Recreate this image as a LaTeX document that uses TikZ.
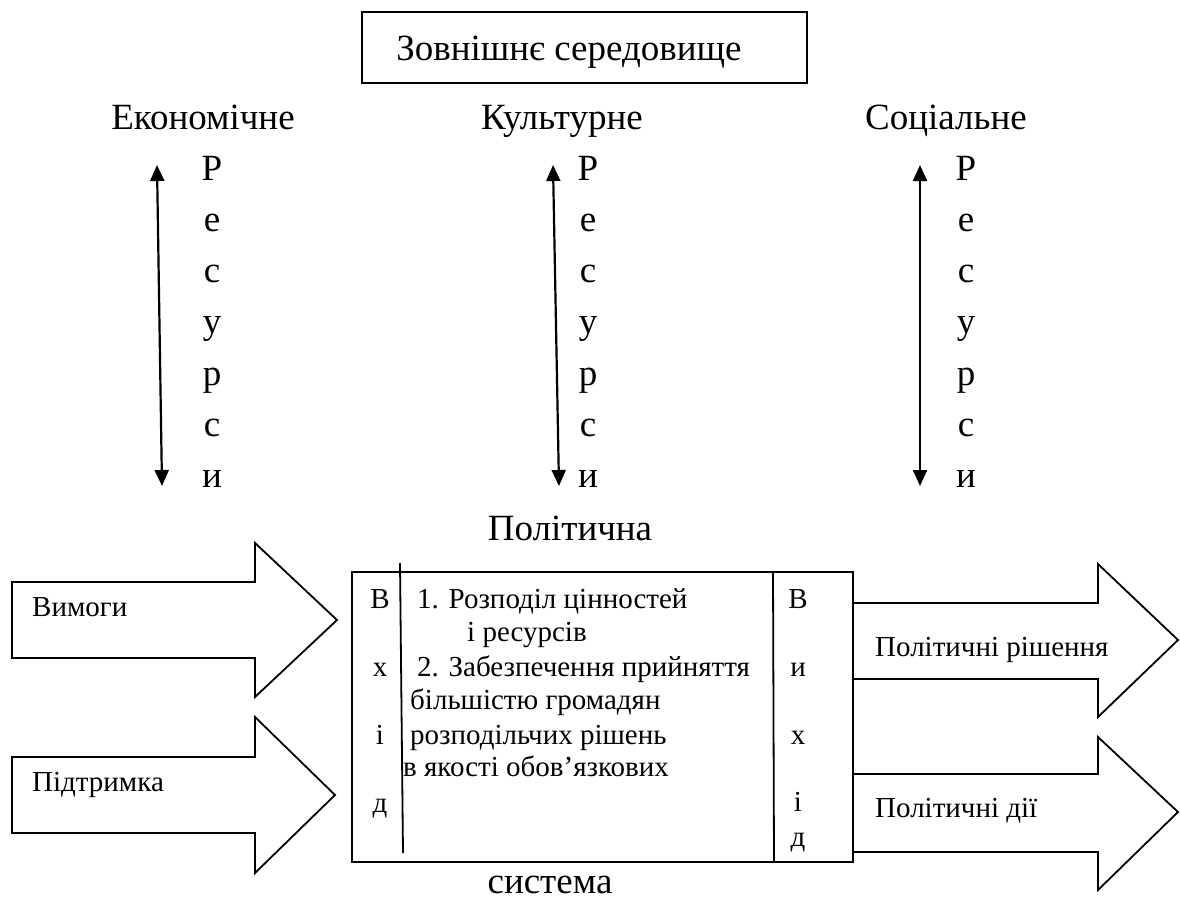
\documentclass[tikz,border=0pt]{standalone}
\usepackage{fontspec}
\setmainfont{Liberation Serif}
\usetikzlibrary{arrows.meta}
\begin{document}
\begin{tikzpicture}[x=1pt,y=-1pt,
  lbl/.style={inner sep=0pt,anchor=base,font=\fontsize{37}{40}\selectfont},
  sml/.style={inner sep=0pt,font=\fontsize{29}{32}\selectfont,anchor=base west},
  blk/.style={draw,line width=1.8pt,line join=miter},
  res/.style={line width=2.2pt,{Triangle[length=16pt,width=14pt]}-{Triangle[length=16pt,width=14pt]}}]
\useasboundingbox (0,0) rectangle (1180,902);
% top box
\node[draw,line width=1.8pt,minimum width=445pt,minimum height=71pt,inner sep=0pt] (env) at (584.5,47.5) {};
\node[lbl] (envt) at (569,60) {Зовнішнє середовище};
% column labels
\node[lbl] (eco) at (203,129) {Економічне};
\node[lbl] (cul) at (562,129) {Культурне};
\node[lbl] (soc) at (946,129) {Соціальне};
% resource columns
\foreach \c/\x in {1/212,2/588,3/966}{
  \foreach \l [count=\i from 0] in {Р,е,с,у,р,с,и}{
    \node[lbl] (r\c-\i) at (\x,180+51.3*\i) {\l};
  }
}
\coordinate (a1t) at (157,165); \coordinate (a1b) at (162,486);
\coordinate (a2t) at (553,165); \coordinate (a2b) at (559,486);
\coordinate (a3t) at (920,165); \coordinate (a3b) at (920,486);
\draw[res] (a1t) -- (a1b);
\draw[res] (a2t) -- (a2b);
\draw[res] (a3t) -- (a3b);
% political system
\node[lbl] (pol) at (570,540) {Політична};
\node[lbl] (sys) at (550,893) {система};
\node[draw,line width=1.8pt,minimum width=501pt,minimum height=290pt,inner sep=0pt] (box) at (602.5,717) {};
\coordinate (l1t) at (400,563); \coordinate (l1b) at (403,853);
\draw[line width=1.8pt] (l1t) -- (l1b);
\coordinate (l2t) at (773,572); \coordinate (l2b) at (774,862);
\draw[line width=1.8pt] (l2t) -- (l2b);
% input / output letters
\node[sml,anchor=base] (i1) at (380,608) {В};
\node[sml,anchor=base] (i2) at (380,676) {х};
\node[sml,anchor=base] (i3) at (380,744) {і};
\node[sml,anchor=base] (i4) at (380,812) {д};
\node[sml,anchor=base] (o1) at (798,608) {В};
\node[sml,anchor=base] (o2) at (798,676) {и};
\node[sml,anchor=base] (o3) at (798,744) {х};
\node[sml,anchor=base] (o4) at (798,811) {і};
\node[sml,anchor=base] (o5) at (798,846) {д};
% box text
\node[sml] (t1) at (417,608) {1. Розподіл цінностей};
\node[sml] (t2) at (467,641) {і ресурсів};
\node[sml] (t3) at (417,676) {2. Забезпечення прийняття};
\node[sml] (t4) at (410,709) {більшістю громадян};
\node[sml] (t5) at (410,744) {розподільчих рішень};
\node[sml] (t6) at (403,776) {в якості обов’язкових};
% input block arrows
\draw[blk] (12,582) -- (255,582) -- (255,543) -- (337,620) -- (255,697) -- (255,658) -- (12,658) -- cycle;
\draw[blk] (12,757) -- (255,757) -- (255,717) -- (335,795) -- (255,873) -- (255,833) -- (12,833) -- cycle;
\node[sml] (dem) at (32,616) {Вимоги};
\node[sml] (sup) at (32,791) {Підтримка};
% output block arrows
\draw[blk] (box.east |- 0,603) -- (1098,603) -- (1098,564) -- (1178,640) -- (1098,717) -- (1098,679) -- (box.east |- 0,679);
\draw[blk] (box.east |- 0,774) -- (1098,774) -- (1098,737) -- (1178,812) -- (1098,890) -- (1098,852) -- (box.east |- 0,852);
\node[sml] (dec) at (875,656) {Політичні рішення};
\node[sml] (act) at (875,817) {Політичні дії};
\end{tikzpicture}
\end{document}
